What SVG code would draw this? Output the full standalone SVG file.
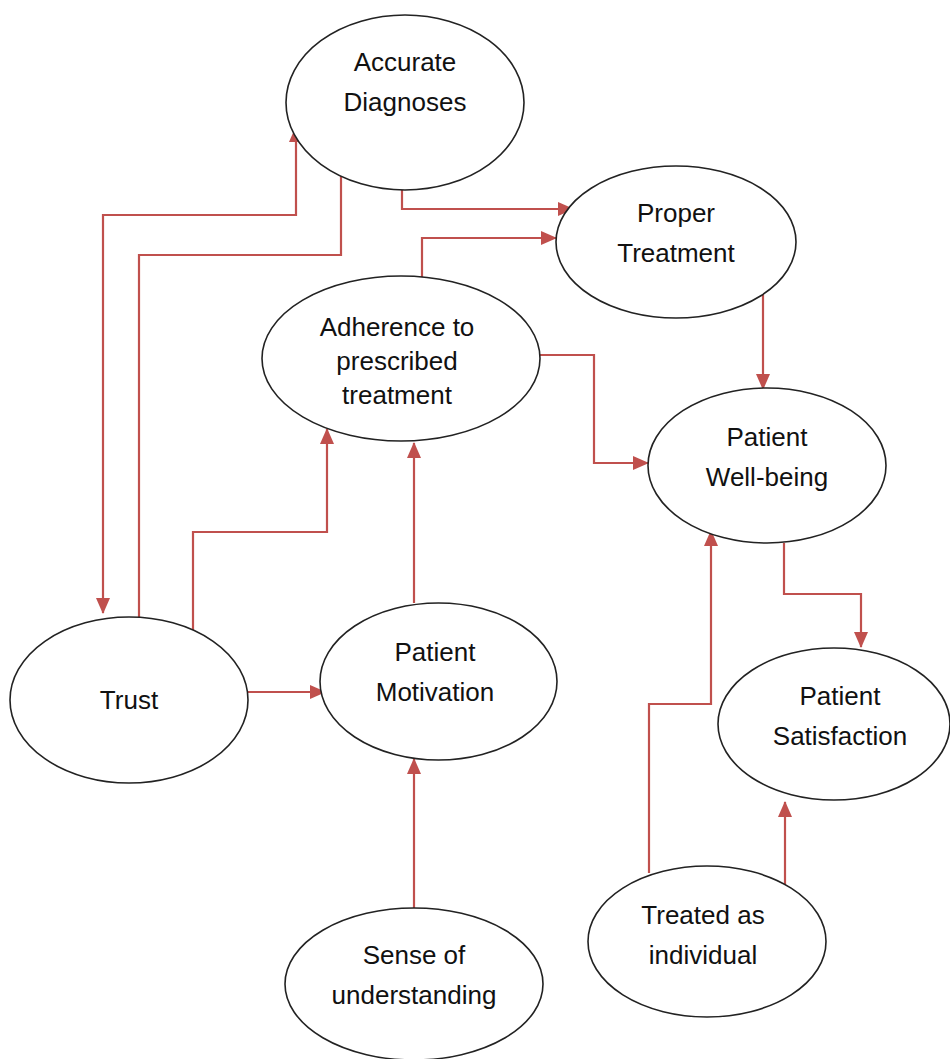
<svg xmlns="http://www.w3.org/2000/svg" width="950" height="1059" viewBox="0 0 950 1059">
  <style>
    .node ellipse { fill: #ffffff; stroke: #222222; stroke-width: 1.6; }
    .node text { font-family: "Liberation Sans", Arial, sans-serif; font-size: 26px; fill: #111111; text-anchor: middle; dominant-baseline: central; }
    .edge { fill: none; stroke: #C0504D; stroke-width: 2.2; marker-end: url(#arrow); }
    .both { marker-start: url(#arrowStart); }
  </style>
  <defs>
    <marker id="arrow" markerUnits="userSpaceOnUse" markerWidth="16" markerHeight="14" refX="15" refY="7" orient="auto">
      <path d="M0,0 L16,7 L0,14 Z" fill="#C0504D"/>
    </marker>
    <marker id="arrowStart" markerUnits="userSpaceOnUse" markerWidth="16" markerHeight="14" refX="1" refY="7" orient="auto">
      <path d="M16,0 L0,7 L16,14 Z" fill="#C0504D"/>
    </marker>
  </defs>

  <rect width="950" height="1059" fill="#ffffff"/>

  <!-- connectors -->
  <g id="connectors">
    <path class="edge both" d="M103,613 V215 H296 V127"/>
    <path class="edge" d="M139,617 V255 H341 V157"/>
    <path class="edge" d="M402,190 V209 H573"/>
    <path class="edge" d="M422,277 V238 H556"/>
    <path class="edge" d="M763,290 V389"/>
    <path class="edge" d="M540,355 H594 V463 H648"/>
    <path class="edge" d="M193,630 V532 H327 V429"/>
    <path class="edge" d="M414,603 V443"/>
    <path class="edge" d="M248,692 H325"/>
    <path class="edge" d="M414,909 V759"/>
    <path class="edge" d="M784,543 V594 H861 V647"/>
    <path class="edge" d="M649,873 V704 H711 V531"/>
    <path class="edge" d="M785,886 V802"/>
  </g>

  <g id="accurate-diagnoses" class="node">
    <ellipse cx="405" cy="102.5" rx="119" ry="87.5"/>
    <text x="405" y="62">Accurate</text>
    <text x="405" y="102">Diagnoses</text>
  </g>

  <g id="proper-treatment" class="node">
    <ellipse cx="676" cy="242" rx="120" ry="76"/>
    <text x="676" y="213">Proper</text>
    <text x="676" y="253">Treatment</text>
  </g>

  <g id="adherence" class="node">
    <ellipse cx="401" cy="358.5" rx="139" ry="82.5"/>
    <text x="397" y="327">Adherence to</text>
    <text x="397" y="361">prescribed</text>
    <text x="397" y="395">treatment</text>
  </g>

  <g id="patient-well-being" class="node">
    <ellipse cx="767" cy="465.5" rx="119" ry="77.5"/>
    <text x="767" y="437">Patient</text>
    <text x="767" y="477">Well-being</text>
  </g>

  <g id="trust" class="node">
    <ellipse cx="129" cy="700" rx="119" ry="83"/>
    <text x="129" y="700">Trust</text>
  </g>

  <g id="patient-motivation" class="node">
    <ellipse cx="438.5" cy="681.5" rx="118.5" ry="78.5"/>
    <text x="435" y="652">Patient</text>
    <text x="435" y="692">Motivation</text>
  </g>

  <g id="patient-satisfaction" class="node">
    <ellipse cx="834" cy="724" rx="116" ry="76"/>
    <text x="840" y="696">Patient</text>
    <text x="840" y="736">Satisfaction</text>
  </g>

  <g id="sense-of-understanding" class="node">
    <ellipse cx="414" cy="984" rx="129" ry="76"/>
    <text x="414" y="955">Sense of</text>
    <text x="414" y="995">understanding</text>
  </g>

  <g id="treated-as-individual" class="node">
    <ellipse cx="707" cy="941.5" rx="119" ry="75.5"/>
    <text x="703" y="915">Treated as</text>
    <text x="703" y="955">individual</text>
  </g>
</svg>
